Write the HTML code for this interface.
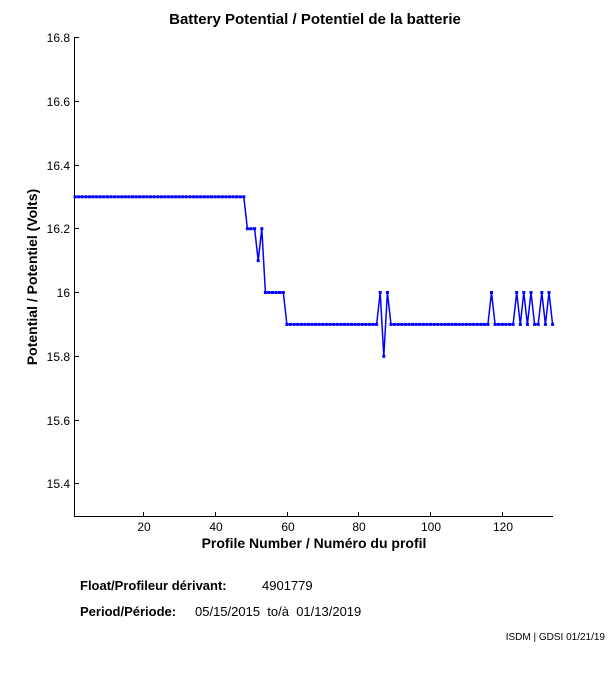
<!DOCTYPE html>
<html><head><meta charset="utf-8"><style>
body{margin:0;background:#fff;}
svg{display:block;font-family:"Liberation Sans",sans-serif;}
</style></head><body>
<svg id="s" width="611" height="675" viewBox="0 0 611 675">
<text x="315" y="24" text-anchor="middle" font-size="15" font-weight="bold">Battery Potential / Potentiel de la batterie</text>
<g stroke="#000" stroke-width="1" fill="none">
<line x1="74.5" y1="37" x2="74.5" y2="517"/>
<line x1="74" y1="516.5" x2="553" y2="516.5"/>
<path d="M74 37.5h5M74 101.5h5M74 165.5h5M74 228.5h5M74 292.5h5M74 356.5h5M74 420.5h5M74 483.5h5"/>
<path d="M143.5 517v-5M215.5 517v-5M287.5 517v-5M358.5 517v-5M430.5 517v-5M502.5 517v-5"/>
</g>
<g font-size="12" text-anchor="end">
<text x="70" y="42">16.8</text><text x="70" y="106">16.6</text><text x="70" y="170">16.4</text>
<text x="70" y="233">16.2</text><text x="70" y="297">16</text><text x="70" y="361">15.8</text>
<text x="70" y="425">15.6</text><text x="70" y="488">15.4</text>
</g>
<g font-size="12" text-anchor="middle">
<text x="144" y="531">20</text><text x="216" y="531">40</text><text x="288" y="531">60</text>
<text x="359" y="531">80</text><text x="431" y="531">100</text><text x="503" y="531">120</text>
</g>
<text x="314" y="548" text-anchor="middle" font-size="14" font-weight="bold">Profile Number / Numéro du profil</text>
<text transform="translate(37,277) rotate(-90)" text-anchor="middle" font-size="14" font-weight="bold">Potential / Potentiel (Volts)</text>
<text x="80" y="590" font-size="13" font-weight="bold">Float/Profileur dérivant:</text>
<text x="262" y="590" font-size="13">4901779</text>
<text x="80" y="616" font-size="13" font-weight="bold">Period/Période:</text>
<text x="195" y="616" font-size="13" xml:space="preserve">05/15/2015  to/à  01/13/2019</text>
<text x="605" y="640" font-size="10" text-anchor="end">ISDM | GDSI 01/21/19</text>
<polyline id="pl" fill="none" stroke="#0000ff" stroke-width="1.5"/>
<g id="mk" fill="#0000ff"></g>
</svg>
<script>
var v=[];
for(var n=1;n<=134;n++){
 var y=15.9;
 if(n<=48)y=16.3;else if(n<=51)y=16.2;else if(n==52)y=16.1;else if(n==53)y=16.2;else if(n<=59)y=16.0;
 if(n==86||n==88||n==117||n==124||n==126||n==128||n==131||n==133)y=16.0;
 if(n==87)y=15.8;
 v.push([n,y]);
}
var pts=[],mk="";
v.forEach(function(p){var x=71.5+3.59*p[0],y=292.5-(p[1]-16)*319;pts.push(x.toFixed(1)+","+y.toFixed(1));
mk+='<rect x="'+(x-1.5).toFixed(1)+'" y="'+(y-1.5).toFixed(1)+'" width="3" height="3"/>';});
document.getElementById("pl").setAttribute("points",pts.join(" "));
document.getElementById("mk").innerHTML=mk;
</script>
</body></html>
